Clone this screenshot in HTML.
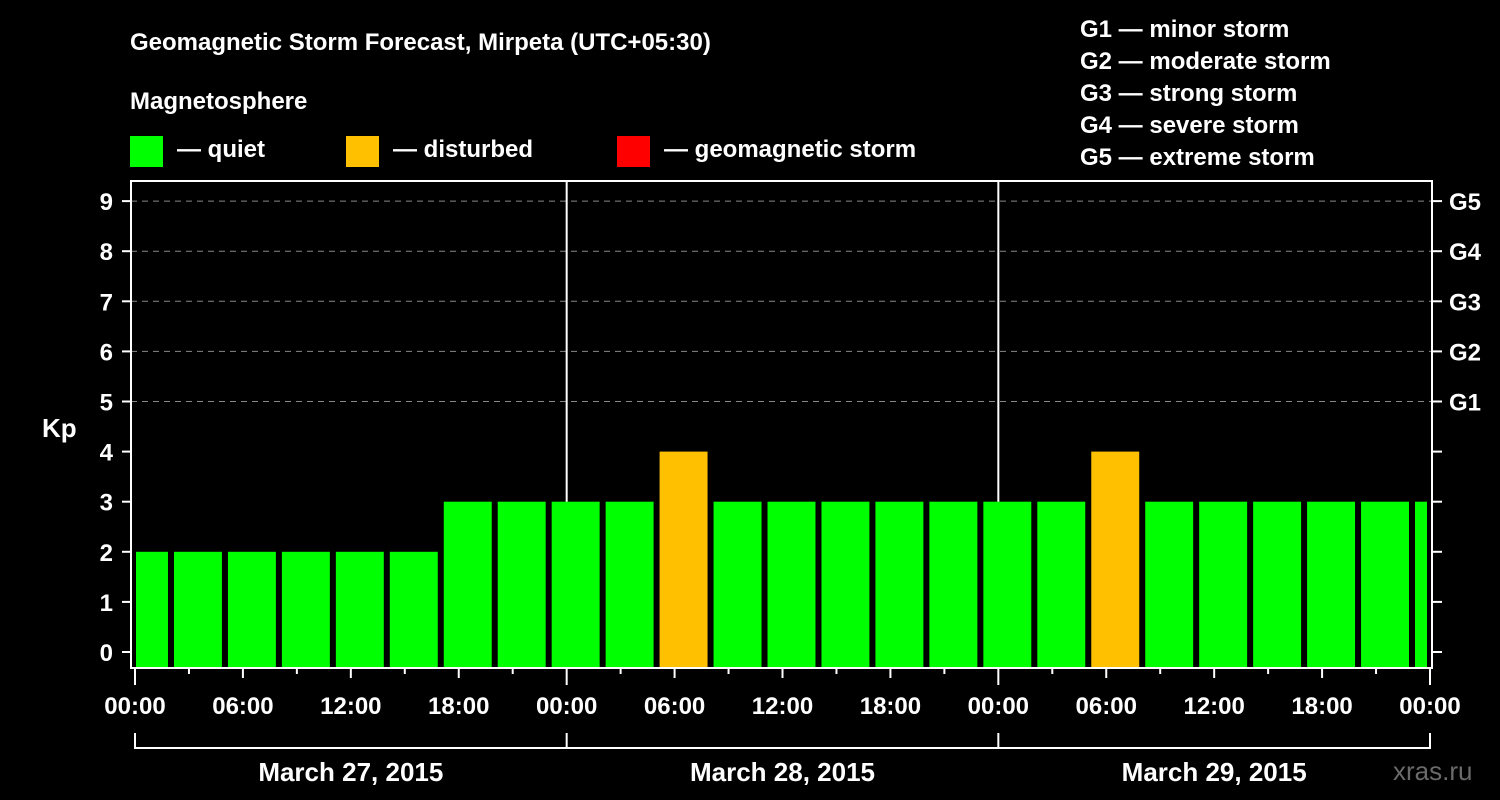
<!DOCTYPE html>
<html><head><meta charset="utf-8"><style>
html,body{margin:0;padding:0;background:#000;width:1500px;height:800px;overflow:hidden}
text{font-family:"Liberation Sans",sans-serif;font-weight:bold;fill:#fff}
</style></head><body>
<svg id="chart" width="1500" height="800" xmlns="http://www.w3.org/2000/svg">
<text x="130" y="50" font-size="24">Geomagnetic Storm Forecast, Mirpeta (UTC+05:30)</text>
<text x="130" y="109" font-size="24">Magnetosphere</text>
<g><rect x="130" y="136" width="33" height="31" fill="#00ff00"/><text x="177" y="157" font-size="24">— quiet</text></g>
<g><rect x="346" y="136" width="33" height="31" fill="#ffc000"/><text x="393" y="157" font-size="24">— disturbed</text></g>
<g><rect x="617" y="136" width="33" height="31" fill="#ff0000"/><text x="664" y="157" font-size="24">— geomagnetic storm</text></g>
<g font-size="24">
<text x="1080" y="37">G1 — minor storm</text>
<text x="1080" y="69">G2 — moderate storm</text>
<text x="1080" y="101">G3 — strong storm</text>
<text x="1080" y="133">G4 — severe storm</text>
<text x="1080" y="165">G5 — extreme storm</text>
</g>
<text x="42" y="437" font-size="26">Kp</text>
<g id="grid"></g><g id="bars"></g><g id="axes"></g>
<text x="1393" y="780" font-size="26" fill="#666" style="fill:#6a6a6a;font-weight:normal">xras.ru</text>
</svg>
<script>
const values=[2,2,2,2,2,2,3,3,3,3,4,3,3,3,3,3,3,3,4,3,3,3,3,3,3];
const yTicks=[0,1,2,3,4,5,6,7,8,9];
const gLabels=["G1","G2","G3","G4","G5"];
const xLabels=["00:00","06:00","12:00","18:00","00:00","06:00","12:00","18:00","00:00","06:00","12:00","18:00","00:00"];
const days=["March 27, 2015","March 28, 2015","March 29, 2015"];
const NS="http://www.w3.org/2000/svg";
const X0=135,X1=1430,HOURS=72,firstSlotHours=2,SLOT=3;
const x=h=>X0+(X1-X0)*h/HOURS;
const y=v=>652-v*50.1;
const L=131,R=1432,T=181,B=668;
function mk(p,tag,a){const e=document.createElementNS(NS,tag);for(const k in a)e.setAttribute(k,a[k]);p.appendChild(e);return e;}
const grid=document.getElementById('grid'),bars=document.getElementById('bars'),axes=document.getElementById('axes');
yTicks.forEach(v=>{
  if(v>=5){const l=mk(grid,'line',{x1:L,x2:R,y1:y(v),y2:y(v),stroke:'#888','stroke-dasharray':'6,5','stroke-width':1});
  
  }
  const t=mk(axes,'text',{x:113,y:y(v)+9,'font-size':24,'text-anchor':'end'});t.textContent=v;
  
  
  mk(axes,'line',{x1:122,x2:L,y1:y(v),y2:y(v),stroke:'#fff','stroke-width':2});
  mk(axes,'line',{x1:R,x2:1442,y1:y(v),y2:y(v),stroke:'#fff','stroke-width':2});
});
gLabels.forEach((g,i)=>{const t=mk(axes,'text',{x:1449,y:y(5+i)+9,'font-size':24});t.textContent=g;
  
  });
[24,48].forEach(h=>mk(grid,'line',{x1:x(h),x2:x(h),y1:T,y2:B,stroke:'#fff','stroke-width':2}));
values.forEach((v,i)=>{
  const h0=i===0?0:firstSlotHours+(i-1)*SLOT, h1=Math.min(HOURS,firstSlotHours+i*SLOT);
  const a=i===0?x(h0)+1:x(h0)+3, b=x(h1)-3;
  const c=v>=5?'#ff0000':(v>=4?'#ffc000':'#00ff00');
  const r=mk(bars,'rect',{x:a,y:y(v),width:Math.max(0,b-a),height:B-y(v),fill:c});
  
  
});
mk(axes,'rect',{x:L,y:T,width:R-L,height:B-T,fill:'none',stroke:'#fff','stroke-width':2});
for(let h=0;h<=HOURS;h+=3){mk(axes,'line',{x1:x(h),x2:x(h),y1:B,y2:h%24===0?685:(h%6===0?678:674),stroke:'#fff','stroke-width':2});}
xLabels.forEach((s,i)=>{const t=mk(axes,'text',{x:x(i*6),y:714,'font-size':24,'text-anchor':'middle'});t.textContent=s;
  
  });
mk(axes,'line',{x1:x(0),x2:x(72),y1:748,y2:748,stroke:'#fff','stroke-width':2});
[0,24,48,72].forEach(h=>mk(axes,'line',{x1:x(h),x2:x(h),y1:733,y2:749,stroke:'#fff','stroke-width':2}));
days.forEach((d,i)=>{const t=mk(axes,'text',{x:x(i*24+12),y:781,'font-size':26,'text-anchor':'middle'});t.textContent=d;
  
  });
</script>
</body></html>
